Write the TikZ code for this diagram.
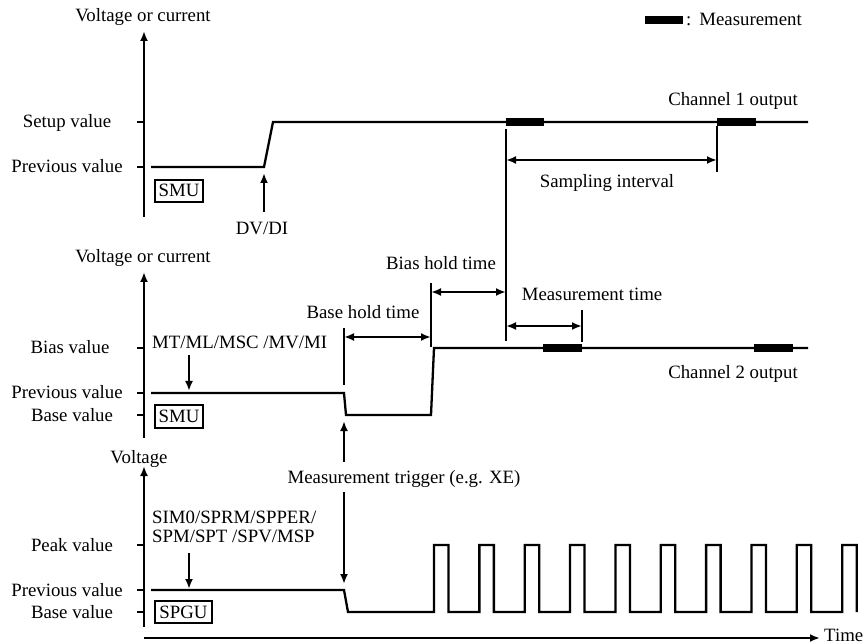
\documentclass[tikz,border=0pt]{standalone}
\usepackage{fontspec}
\setmainfont{Liberation Serif}
\usetikzlibrary{arrows.meta}
\begin{document}
\begin{tikzpicture}[x=1pt,y=-1pt,
  lbl/.style={font=\fontsize{18.8}{22}\selectfont, inner sep=0pt, text height=12pt, text depth=0pt},
  wave/.style={line width=2.3pt, line join=miter},
  axisline/.style={line width=2.3pt, -{Latex[length=10pt,width=8pt]}},
  tickmark/.style={line width=2pt},
  meas/.style={line width=7.5pt},
  dimline/.style={line width=2.3pt, {Latex[length=10pt,width=8pt]}-{Latex[length=10pt,width=8pt]}},
  marker/.style={line width=2.3pt},
  ptr/.style={line width=2.3pt, -{Latex[length=10pt,width=8pt]}},
  unit/.style={lbl, draw, line width=2pt, inner xsep=4pt, inner ysep=5pt},
]
\useasboundingbox (0,0) rectangle (868,644);

% ---------- legend ----------
\coordinate (lg1) at (645,20); \coordinate (lg2) at (683,20);
\draw[meas] (lg1) -- (lg2);
\node[lbl, anchor=west] (lgt) at (686,20) {:\hspace{8pt}Measurement};

% ---------- channel 1 ----------
\node[lbl] (yl1) at (143,16) {Voltage or current};
\coordinate (ax1b) at (144,217); \coordinate (ax1t) at (144,31);
\draw[axisline] (ax1b) -- (ax1t);
\coordinate (t1a) at (137,122); \coordinate (t1b) at (144,122);
\coordinate (t2a) at (137,167); \coordinate (t2b) at (144,167);
\draw[tickmark] (t1a) -- (t1b); \draw[tickmark] (t2a) -- (t2b);
\node[lbl] (setup) at (67,122) {Setup value};
\node[lbl] (prev1) at (67,167) {Previous value};
\draw[wave] (151,167) -- (264,167) -- (273,122) -- (808,122);
\draw[meas] (506,122) -- (544,122);
\draw[meas] (717,122) -- (756,122);
\node[lbl] (ch1) at (733,100) {Channel 1 output};
\node[unit] (smu1) at (179,191) {SMU};
\coordinate (dvt) at (264,212); \coordinate (dvh) at (264,173);
\draw[ptr] (dvt) -- (dvh);
\node[lbl] (dvdi) at (262,229) {DV/DI};

% main vertical marker and sampling interval
\coordinate (mv1) at (506,129); \coordinate (mv2) at (506,341);
\draw[marker] (mv1) -- (mv2);
\coordinate (sv1) at (717,126); \coordinate (sv2) at (717,172);
\draw[marker] (sv1) -- (sv2);
\coordinate (sa1) at (506,160); \coordinate (sa2) at (717,160);
\draw[dimline] (sa1) -- (sa2);
\node[lbl] (samp) at (607,182) {Sampling interval};

% ---------- channel 2 ----------
\node[lbl] (yl2) at (143,257) {Voltage or current};
\coordinate (ax2b) at (144,438); \coordinate (ax2t) at (144,272);
\draw[axisline] (ax2b) -- (ax2t);
\draw[tickmark] (137,348) -- (144,348);
\draw[tickmark] (137,393) -- (144,393);
\draw[tickmark] (137,415) -- (144,415);
\node[lbl] (bias) at (70,348) {Bias value};
\node[lbl] (prev2) at (67,393) {Previous value};
\node[lbl] (base2) at (72,415) {Base value};
\draw[wave] (151,393) -- (344,393) -- (346,415) -- (431,415) -- (434,348) -- (808,348);
\draw[meas] (543,348) -- (582,348);
\draw[meas] (754,348) -- (793,348);
\node[lbl] (ch2) at (733,373) {Channel 2 output};
\node[unit] (smu2) at (179,416.5) {SMU};
\node[lbl, anchor=west] (mtcmd) at (152,343) {MT/ML/MSC /MV/MI};
\coordinate (mta) at (189,355); \coordinate (mth) at (189,391);
\draw[ptr] (mta) -- (mth);

% base hold time
\coordinate (bh1) at (344,328); \coordinate (bh2) at (344,385);
\draw[marker] (bh1) -- (bh2);
\coordinate (bha) at (344,337); \coordinate (bhb) at (431,337);
\draw[dimline] (bha) -- (bhb);
\node[lbl] (bhl) at (363,313) {Base hold time};

% bias hold time
\coordinate (bs1) at (431,283); \coordinate (bs2) at (431,347);
\draw[marker] (bs1) -- (bs2);
\coordinate (bsa) at (431,292); \coordinate (bsb) at (506,292);
\draw[dimline] (bsa) -- (bsb);
\node[lbl] (bsl) at (441,264) {Bias hold time};

% measurement time
\coordinate (mt1) at (582,310); \coordinate (mt2) at (582,342);
\draw[marker] (mt1) -- (mt2);
\coordinate (mta2) at (506,326); \coordinate (mtb2) at (582,326);
\draw[dimline] (mta2) -- (mtb2);
\node[lbl] (mtl) at (592,295) {Measurement time};

% measurement trigger
\node[lbl] (trig) at (404,477) {Measurement trigger (e.g. XE)};
\coordinate (tru1) at (344,462); \coordinate (tru2) at (344,421);
\draw[ptr] (tru1) -- (tru2);
\coordinate (trd1) at (344,492); \coordinate (trd2) at (344,584);
\draw[ptr] (trd1) -- (trd2);

% ---------- SPGU ----------
\node[lbl] (yl3) at (139,457) {Voltage};
\coordinate (ax3b) at (144,627); \coordinate (ax3t) at (144,466);
\draw[axisline] (ax3b) -- (ax3t);
\draw[tickmark] (137,545) -- (144,545);
\draw[tickmark] (137,590) -- (144,590);
\draw[tickmark] (137,612) -- (144,612);
\node[lbl] (peak) at (72,545) {Peak value};
\node[lbl] (prev3) at (67,590) {Previous value};
\node[lbl] (base3) at (72,612) {Base value};
\node[unit] (spgu) at (183.5,612) {SPGU};
\node[lbl, anchor=west] (sp1) at (152,517) {SIM0/SPRM/SPPER/};
\node[lbl, anchor=west] (sp2) at (152,536) {SPM/SPT /SPV/MSP};
\coordinate (spa) at (189,553); \coordinate (sph) at (189,589);
\draw[ptr] (spa) -- (sph);
\draw[wave] (151,590) -- (344,590) -- (348,612) -- (434,612)
  \foreach \k in {0,...,8}{ -- ++(0,-67) -- ++(14.5,0) -- ++(0,67) -- ++(30.85,0) }
  -- ++(0,-67) -- ++(14.5,0) -- ++(0,67);

% time axis
\coordinate (tx1) at (144,638); \coordinate (tx2) at (820,638);
\draw[axisline] (tx1) -- (tx2);
\node[lbl, anchor=west] (time) at (824,635) {Time};
\end{tikzpicture}
\end{document}
